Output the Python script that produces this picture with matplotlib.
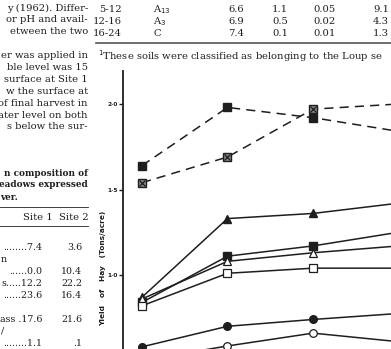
import matplotlib.pyplot as plt

W, H = 391, 349
fig = plt.figure(figsize=(W / 100, H / 100), dpi=100)
fig.patch.set_facecolor('white')
ink = '#1e1e1e'


def P(x, y):
    return x / W, 1 - y / H


# ---- data ----
harvest = [1, 2, 3, 4]
dash_filled_sq = [1.64, 1.98, 1.92, 1.84]
dash_cross_sq = [1.54, 1.69, 1.97, 2.0]
filled_tri = [0.87, 1.33, 1.36, 1.42]
filled_sq = [0.84, 1.11, 1.17, 1.25]
open_tri = [0.86, 1.08, 1.13, 1.17]
open_sq = [0.82, 1.01, 1.04, 1.04]
filled_circ = [0.58, 0.70, 0.74, 0.775]
open_circ = [0.50, 0.585, 0.66, 0.61]
yticks = [1.0, 1.5, 2.0]
ytick_labels = ['1\u00b70', '1\u00b75', '2\u00b70']

# left column body text
body_lines = ['y (1962). Differ-', 'or pH and avail-', 'etween the two', '',
              'er was applied in', 'ble level was 15', 'surface at Site 1',
              'w the surface at', 'of final harvest in', 'ater level on both',
              's below the sur-']
caption_lines = ['n composition of', 'eadows expressed', 'ver.']
comp_rows = [('........', '7.4', '3.6'), ('n', '', ''), ('......', '0.0', '10.4'),
             ('s.....', '12.2', '22.2'), ('......', '23.6', '16.4'), ('', '', ''),
             ('ass .', '17.6', '21.6'), ('/', '', ''), ('........', '1.1', '.1')]

# soil table (top right)
depths = ['5-12', '12-16', '16-24']
horizons = ['A$_{13}$', 'A$_3$', 'C']
ph = ['6.6', '6.9', '7.4']
col2 = ['1.1', '0.5', '0.1']
col3 = ['0.05', '0.02', '0.01']
col4 = ['9.1', '4.3', '1.3']

serif = 'DejaVu Serif'
fs = 7.2

# ---- page text ----
for i, t in enumerate(body_lines):
    if t:
        fig.text(*P(88, 7 + i * 11.9), t, ha='right', va='center_baseline',
                 family=serif, fontsize=fs, color=ink)
for i, t in enumerate(caption_lines):
    x, ha = (88, 'right') if i < 2 else (0, 'left')
    fig.text(*P(x, 172 + i * 12), t, ha=ha, va='center_baseline',
             family=serif, fontsize=fs - 0.8, weight='bold', color=ink)
fig.add_artist(plt.Line2D([0, 88 / W], [1 - 207 / H] * 2, color=ink, lw=0.6))
fig.add_artist(plt.Line2D([0, 88 / W], [1 - 226 / H] * 2, color=ink, lw=0.6))
fig.text(*P(89, 216), 'Site 1  Site 2', ha='right', va='center_baseline',
         family=serif, fontsize=fs, color=ink)
for i, (lab, s1, s2) in enumerate(comp_rows):
    y = 247 + i * 11.9
    if s1:
        fig.text(*P(42, y), lab + s1, ha='right', va='center_baseline',
                 family=serif, fontsize=6.8, color=ink)
        fig.text(*P(82, y), s2, ha='right', va='center_baseline',
                 family=serif, fontsize=6.8, color=ink)
    elif lab:
        fig.text(*P(1, y), lab, ha='left', va='center_baseline',
                 family=serif, fontsize=6.8, color=ink)

for i in range(3):
    y = 8 + i * 12
    fig.text(*P(122, y), depths[i], ha='right', va='center_baseline', family=serif, fontsize=fs, color=ink)
    fig.text(*P(153, y), horizons[i], ha='left', va='center_baseline', family=serif, fontsize=fs, color=ink)
    fig.text(*P(236, y), ph[i], ha='center', va='center_baseline', family=serif, fontsize=fs, color=ink)
    fig.text(*P(280, y), col2[i], ha='center', va='center_baseline', family=serif, fontsize=fs, color=ink)
    fig.text(*P(325, y), col3[i], ha='center', va='center_baseline', family=serif, fontsize=fs, color=ink)
    fig.text(*P(381, y), col4[i], ha='center', va='center_baseline', family=serif, fontsize=fs, color=ink)
fig.add_artist(plt.Line2D([96 / W, 1], [1 - 43 / H] * 2, color='#555555', lw=1.2))
fig.text(*P(98, 54), '$^1$These soils were classified as belonging to the Loup se',
         ha='left', va='center_baseline', family=serif, fontsize=fs, color=ink)

# ---- chart ----
ax = fig.add_axes([123 / W, 0, 1 - 123 / W, 1 - 71 / H])
ax.set_xlim(1 - 19 / 85.5, 1 + 249 / 85.5)
ax.set_ylim(1 - 74 / 171, 1 + 204 / 171)
ax.patch.set_alpha(0)
for s in ['top', 'right', 'bottom']:
    ax.spines[s].set_visible(False)
ax.spines['left'].set_linewidth(1.3)
ax.spines['left'].set_color(ink)
ax.set_xticks([])
ax.set_yticks(yticks)
ax.set_yticklabels(ytick_labels, fontsize=4.2, weight='bold', color=ink)
ax.tick_params(axis='y', length=3, width=1, color=ink, pad=0.5)

dash = (0, (6, 4))
kw = dict(color=ink, lw=1.1, ms=5.5)
ax.plot(harvest, dash_filled_sq, ls=dash, marker='s', **kw)
ax.plot(harvest, dash_cross_sq, ls=dash, marker='s', mfc='#888888', **kw)
ax.plot(harvest, dash_cross_sq, ls='none', marker='x', color=ink, ms=4.5, mew=0.9)
ax.plot(harvest, filled_tri, marker='^', **kw)
ax.plot(harvest, filled_sq, marker='s', **kw)
ax.plot(harvest, open_tri, marker='^', mfc='white', mew=0.9, **kw)
ax.plot(harvest, open_sq, marker='s', mfc='white', mew=0.9, **kw)
ax.plot(harvest, filled_circ, marker='o', **kw)
ax.plot(harvest, open_circ, marker='o', mfc='white', mew=0.9, **kw)

fig.text(*P(103, 268), 'Yield   of   Hay   (Tons/acre)', rotation=90, ha='center', va='center',
         fontsize=5.3, weight='bold', color=ink)

fig.savefig('out.png', dpi=100)
